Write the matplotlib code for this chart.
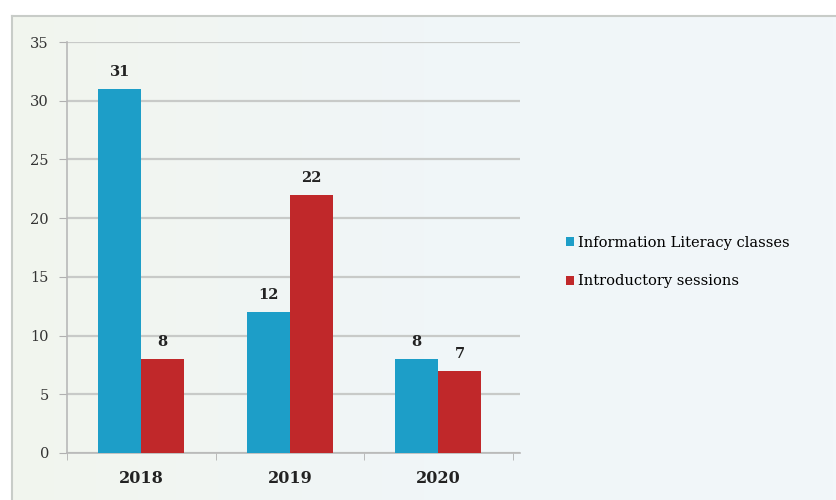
import matplotlib.pyplot as plt
import numpy as np
from matplotlib.colors import LinearSegmentedColormap

years = ['2018', '2019', '2020']
info_literacy = [31, 12, 8]
intro_sessions = [8, 22, 7]
series_names = ['Information Literacy classes', 'Introductory sessions']
colors = ['#1d9ec8', '#c0282a']

plt.rcParams['font.family'] = ['DejaVu Serif']

fig = plt.figure(figsize=(8.36, 5.0), dpi=100)

# background panel with light gradient and thin border
bg = fig.add_axes([12 / 836, 0, 1 - 12 / 836, 1 - 16 / 500])
grad = np.linspace(0, 1, 256).reshape(1, -1)
cmap = LinearSegmentedColormap.from_list('bg', ['#f2f5ee', '#f0f6f8', '#f2f7fa'])
bg.imshow(grad, aspect='auto', cmap=cmap, extent=[0, 1, 0, 1])
bg.set_xticks([])
bg.set_yticks([])
for side in ['right', 'bottom']:
    bg.spines[side].set_visible(False)
for side in ['left', 'top']:
    bg.spines[side].set_color('#c8ccc8')
    bg.spines[side].set_linewidth(1.5)

ax = fig.add_axes([67 / 836, 1 - 453 / 500, 453 / 836, (453 - 42) / 500])
ax.patch.set_alpha(0)

x = np.arange(len(years))
w = 0.29
b1 = ax.bar(x - w / 2, info_literacy, w, color=colors[0], label=series_names[0], zorder=3)
b2 = ax.bar(x + w / 2, intro_sessions, w, color=colors[1], label=series_names[1], zorder=3)

for bars in (b1, b2):
    for rect in bars:
        ax.annotate(f'{int(rect.get_height())}',
                    (rect.get_x() + rect.get_width() / 2, rect.get_height()),
                    xytext=(0, 7), textcoords='offset points',
                    ha='center', va='bottom', fontsize=10.5, fontweight='bold', color='#222222')

ax.set_ylim(0, 35)
ax.set_yticks(range(0, 36, 5))
ax.set_xlim(-0.5, 2.55)
ax.set_xticks(x)
ax.set_xticklabels(years, fontsize=11.5, fontweight='bold', color='#222222')
ax.set_xticks([-0.5, 0.5, 1.5, 2.5], minor=True)
ax.tick_params(axis='x', which='major', length=0, pad=12)
ax.tick_params(axis='x', which='minor', length=5, color='#b0b0b0')
ax.tick_params(axis='y', length=6, color='#b0b0b0', labelsize=10.5, labelcolor='#333333', pad=7)

ax.yaxis.grid(True, color='#c8cac8', linewidth=1.6, zorder=0)
for side in ['top', 'right']:
    ax.spines[side].set_visible(False)
for side in ['left', 'bottom']:
    ax.spines[side].set_color('#b8b8b8')
    ax.spines[side].set_linewidth(1.2)

fig.legend(loc='center left', bbox_to_anchor=(553 / 836, 1 - 262 / 500),
           frameon=False, handlelength=0.55, handleheight=0.55, handletextpad=0.25,
           labelspacing=1.7, prop={'size': 10.5})

fig.savefig('out.png', dpi=100)
